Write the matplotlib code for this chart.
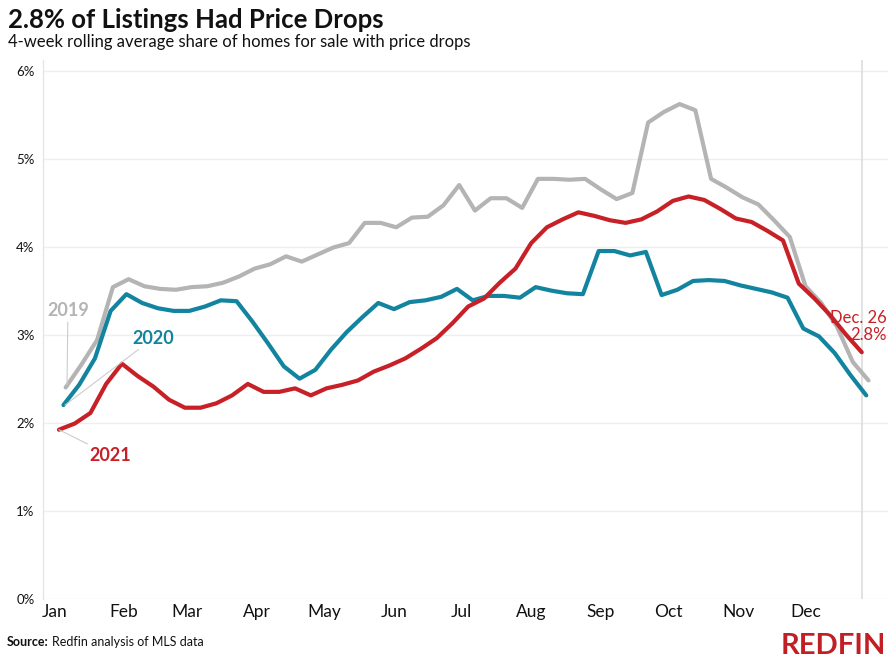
import matplotlib
matplotlib.use("Agg")
import matplotlib.pyplot as plt
import pandas as pd
import numpy as np

# ---- data (weekly, 4-week rolling share of listings with price drops, %) ----
dates_2019 = pd.date_range("2019-01-06", periods=52, freq="7D")
dates_2020 = pd.date_range("2020-01-05", periods=52, freq="7D")
dates_2021 = pd.date_range("2021-01-03", periods=52, freq="7D")

share_2019 = [2.40, 2.66, 2.94, 3.54, 3.63, 3.55, 3.52, 3.51, 3.54, 3.55, 3.59, 3.66, 3.75,
              3.80, 3.89, 3.83, 3.91, 3.99, 4.04, 4.27, 4.27, 4.22, 4.33, 4.34, 4.47, 4.70,
              4.41, 4.55, 4.55, 4.44, 4.77, 4.77, 4.76, 4.77, 4.65, 4.54, 4.61, 5.41, 5.53,
              5.62, 5.55, 4.77, 4.67, 4.56, 4.48, 4.30, 4.11, 3.55, 3.36, 3.09, 2.69, 2.48]
share_2020 = [2.20, 2.43, 2.73, 3.27, 3.46, 3.36, 3.30, 3.27, 3.27, 3.32, 3.39, 3.38, 3.15,
              2.90, 2.64, 2.50, 2.60, 2.83, 3.03, 3.20, 3.36, 3.29, 3.37, 3.39, 3.43, 3.52,
              3.39, 3.44, 3.44, 3.42, 3.54, 3.50, 3.47, 3.46, 3.95, 3.95, 3.90, 3.94, 3.45,
              3.51, 3.61, 3.62, 3.61, 3.56, 3.52, 3.48, 3.42, 3.07, 2.98, 2.79, 2.54, 2.31]
share_2021 = [1.92, 1.99, 2.11, 2.44, 2.67, 2.53, 2.41, 2.26, 2.17, 2.17, 2.22, 2.31, 2.44,
              2.35, 2.35, 2.39, 2.31, 2.39, 2.43, 2.48, 2.58, 2.65, 2.73, 2.84, 2.96, 3.13,
              3.32, 3.41, 3.59, 3.75, 4.04, 4.22, 4.31, 4.39, 4.35, 4.30, 4.27, 4.31, 4.40,
              4.52, 4.57, 4.53, 4.43, 4.32, 4.28, 4.18, 4.07, 3.58, 3.41, 3.22, 3.00, 2.80]

month_labels = ["Jan", "Feb", "Mar", "Apr", "May", "Jun", "Jul", "Aug", "Sep", "Oct", "Nov", "Dec"]
y_ticks = [0, 1, 2, 3, 4, 5, 6]

title = "2.8% of Listings Had Price Drops"
subtitle = "4-week rolling average share of homes for sale with price drops"

GRAY = "#b4b4b4"
BLUE = "#13849f"
RED = "#c82027"
NARROW = ["Liberation Sans Narrow", "Lato", "DejaVu Sans"]

plt.rcParams["font.family"] = ["Lato", "DejaVu Sans"]

fig = plt.figure(figsize=(8.95, 6.65), dpi=100)
ax = fig.add_axes([0.048, 0.0997, 0.944, 0.81])


def doy(d):
    return np.asarray(d.dayofyear - 1, dtype=float)


x19, x20, x21 = doy(dates_2019), doy(dates_2020), doy(dates_2021)

ax.plot(x19, share_2019, color=GRAY, lw=3.0, solid_joinstyle="round", solid_capstyle="round", zorder=3)
ax.plot(x20, share_2020, color=BLUE, lw=3.0, solid_joinstyle="round", solid_capstyle="round", zorder=4)
ax.plot(x21, share_2021, color=RED, lw=3.0, solid_joinstyle="round", solid_capstyle="round", zorder=5)

# vertical marker at last 2021 date
ax.axvline(x21[-1], color="#dddddd", lw=1.2, zorder=1)

ax.set_xlim(-5.1, 370.6)
ax.set_ylim(0, 6.12)

month_starts = doy(pd.date_range("2021-01-01", periods=12, freq="MS"))
ax.set_xticks(month_starts)
ax.set_xticklabels(month_labels, fontsize=12.5, color="#111111", family=NARROW)
ax.set_yticks(y_ticks)
ax.set_yticklabels([f"{t}%" for t in y_ticks], fontsize=9.5, color="#111111")
ax.tick_params(axis="both", length=0)
ax.tick_params(axis="x", pad=4)
ax.tick_params(axis="y", pad=6)
ax.grid(axis="y", color="#eeeeee", lw=1)
ax.set_axisbelow(True)
for s in ["top", "right", "bottom"]:
    ax.spines[s].set_visible(False)
ax.spines["left"].set_color("#e6e6e6")
ax.spines["left"].set_linewidth(1)

# series labels with connectors
conn = dict(arrowstyle="-", color="#cccccc", lw=0.8, shrinkA=0, shrinkB=0)
ax.annotate("2019", xy=(x19[0] + 0.6, share_2019[0] + 0.03), xytext=(6.0, 3.27),
            ha="center", va="center", fontsize=13, fontweight="bold", color=GRAY,
            arrowprops=conn, zorder=6)
ax.annotate("2020", xy=(x20[0] + 0.7, share_2020[0]), xytext=(44.0, 2.96),
            ha="center", va="center", fontsize=13, fontweight="bold", color=BLUE,
            arrowprops=conn, zorder=6)
ax.annotate("2021", xy=(x21[0], share_2021[0]), xytext=(24.7, 1.63),
            ha="center", va="center", fontsize=13, fontweight="bold", color=RED,
            arrowprops=conn, zorder=6)

# end label
ax.text(370.2, 3.09, "Dec. 26\n2.8%", ha="right", va="center", fontsize=12,
        color=RED, linespacing=1.05, zorder=7)

# titles
fig.text(0.009, 0.988, title, ha="left", va="top", fontsize=18.5, fontweight="bold", color="#111111")
fig.text(0.009, 0.949, subtitle, ha="left", va="top", fontsize=11.95, color="#111111")

# footer
fig.text(0.008, 0.035, "Source:", ha="left", va="center", fontsize=9, fontweight="bold",
         family=NARROW, color="#111111")
fig.text(0.058, 0.035, "Redfin analysis of MLS data", ha="left", va="center", fontsize=9,
         family=NARROW, color="#111111")
fig.text(0.990, 0.029, "REDFIN", ha="right", va="center", fontsize=21, fontweight="bold",
         family=NARROW, color="#c21f25")

fig.savefig("out.png", dpi=100)
